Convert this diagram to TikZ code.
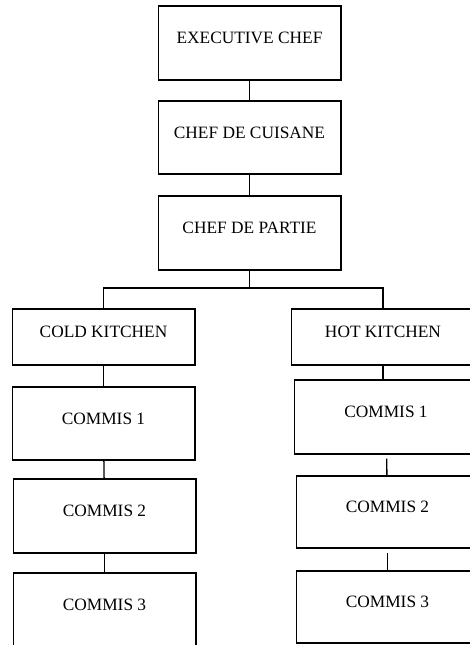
\documentclass[tikz,border=0pt]{standalone}
\usepackage{fontspec}
\setmainfont{Liberation Serif}
\begin{document}
\begin{tikzpicture}[x=0.75pt,y=-0.75pt,
    post/.style={draw,line width=1pt,minimum width=137pt,text height=8.6pt,text depth=7.6pt,inner sep=0pt},
    link/.style={line width=1pt}]
    \fontsize{13pt}{15pt}\selectfont
    \useasboundingbox (0,0) rectangle (470,645);
    \clip (0,0) rectangle (470,645);
    % top of the brigade
    \node[post,minimum height=55.5pt] (exec) at (249.5,43) {EXECUTIVE CHEF};
    \node[post,minimum height=54.75pt] (cuisane) at (249.5,137.5) {CHEF DE CUISANE};
    \node[post,minimum height=55.5pt] (partie) at (249.5,233) {CHEF DE PARTIE};
    % cold side
    \node[post,minimum height=42pt] (cold) at (103.5,337) {COLD KITCHEN};
    \node[post,minimum height=54.75pt] (coldA) at (103.5,423.5) {COMMIS 1};
    \node[post,minimum height=55.5pt] (coldB) at (104.5,516) {COMMIS 2};
    \node[post,minimum height=55.5pt] (coldC) at (104.5,610) {COMMIS 3};
    % hot side
    \node[post,minimum height=42pt] (hot) at (383,337) {HOT KITCHEN};
    \node[post,minimum height=55.5pt] (hotA) at (386,417) {COMMIS 1};
    \node[post,minimum height=54pt] (hotB) at (387.5,512) {COMMIS 2};
    \node[post,minimum height=54pt] (hotC) at (387.5,607) {COMMIS 3};
    \coordinate (bus) at (249.5,288);
    \draw[link] (exec) -- (cuisane);
    \draw[link] (cuisane) -- (partie);
    \draw[link] (partie.south) -- (bus);
    \draw[link] (cold.north) |- (bus) -| (hot.north);
    \draw[link] (cold) -- (coldA);
    \draw[link] (coldA) -- (coldB);
    \draw[link] (coldB) -- (coldC);
    \draw[link] (hot.south) -- (hot.south |- hotA.north);
    \draw[link,shorten <=3pt] (hotA) -- (hotB);
    \draw[link,shorten <=3.5pt] (hotB) -- (hotC);
\end{tikzpicture}
\end{document}
